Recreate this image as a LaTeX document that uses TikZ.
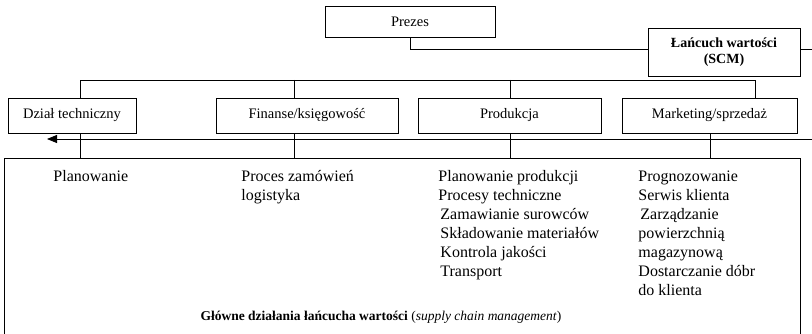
\documentclass[tikz,border=0pt]{standalone}
\usepackage{fontspec}
\setmainfont{Liberation Serif}
\usetikzlibrary{arrows.meta}
\begin{document}
\begin{tikzpicture}[x=1pt,y=-1pt,
  line width=0.9pt,
  unitbox/.style={draw, rectangle, inner sep=0pt, font=\fontsize{14.5}{17}\selectfont},
  listtext/.style={anchor=north west, inner sep=0pt, align=left, font=\fontsize{16}{19}\selectfont},
  link/.style={draw, line width=0.9pt}]
\useasboundingbox (0,0) rectangle (812,334);

% top level
\node[unitbox, minimum width=170pt, minimum height=31pt] (prezes) at (410,21.5) {Prezes};
\node[unitbox, minimum width=152pt, minimum height=48pt, align=center,
      font=\fontsize{14}{16}\bfseries] (scm) at (724,52) {Łańcuch wartości\\(SCM)};
\coordinate (scmout) at (812,49);
\draw[link] (prezes.south) |- (scm.west |- scmout);
\draw[link] (scm.east |- scmout) -- (scmout);

% departments
\node[unitbox, minimum width=128pt, minimum height=35pt] (dzial) at (72,115.5) {Dział techniczny};
\node[unitbox, minimum width=182pt, minimum height=35pt] (fin) at (307,115.5) {Finanse/księgowość};
\node[unitbox, minimum width=183pt, minimum height=35pt] (prod) at (509.5,115.5) {Produkcja};
\node[unitbox, minimum width=175pt, minimum height=35pt] (mark) at (709.5,115.5) {Marketing/sprzedaż};

% bus above the departments
\coordinate (busL) at (80,80);
\coordinate (busR) at (755,80);
\draw[link] (dzial.north -| busL) -- (busL) -- (busR) -- (mark.north -| busR);
\draw[link] (294,80) -- (fin.north -| 294,0);
\draw[link] (510,80) -- (prod.north -| 510,0);

% flow arrow
\coordinate (flowR) at (812,139);
\coordinate (flowL) at (47,139);
\draw[link, -{Triangle[length=10pt,width=8pt]}] (flowR) -- (flowL);

% main activities frame (open at the lower edge of the page)
\coordinate (frameTL) at (4,158);
\coordinate (frameTR) at (800,158);
\draw[link] (4,340) -- (frameTL) -- (frameTR) -- (800,340);
\draw[link] (dzial.south -| 80,0) -- (80,158);
\draw[link] (fin.south -| 294,0) -- (294,158);
\draw[link] (prod.south -| 510,0) -- (510,158);
\draw[link] (mark.south -| 710,0) -- (710,158);

% activities
\node[listtext] (l1) at (53,170) {Planowanie};
\node[listtext] (l2) at (241,170) {Proces zamówień\\logistyka};
\node[listtext] (l3) at (438,170) {Planowanie produkcji\\Procesy techniczne\\\hspace{2pt}Zamawianie surowców\\\hspace{2pt}Składowanie materiałów\\\hspace{2pt}Kontrola jakości\\\hspace{2pt}Transport};
\node[listtext] (l4) at (638,170) {Prognozowanie\\Serwis klienta\\\hspace{2pt}Zarządzanie\\powierzchnią\\magazynową\\Dostarczanie dóbr\\do klienta};

\node[anchor=base, inner sep=0pt, font=\fontsize{13.5}{16}\selectfont] (caption) at (381,320)
  {\textbf{Główne działania łańcucha wartości} (\textit{supply chain management})};
\end{tikzpicture}
\end{document}
